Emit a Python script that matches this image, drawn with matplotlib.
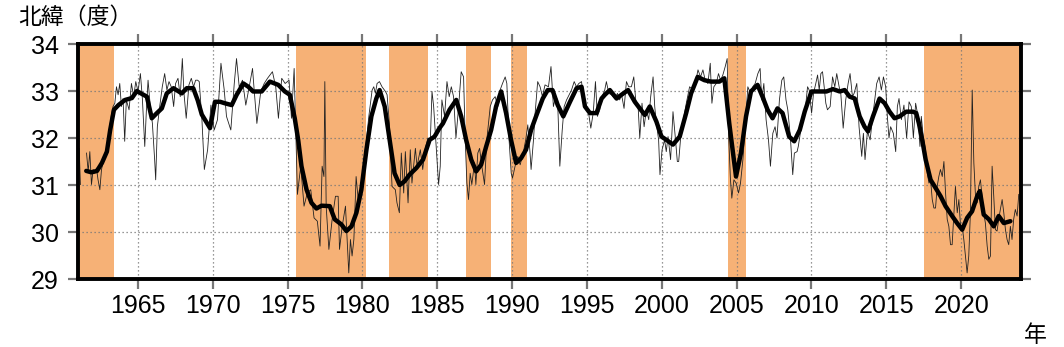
import numpy as np
import matplotlib
matplotlib.use("Agg")
import matplotlib.pyplot as plt

# ---- data ----
# large-meander periods (shaded)
meander_start = [1959.6, 1975.57, 1981.8, 1986.9, 1989.9, 2004.43, 2017.52]
meander_end = [1963.39, 1980.23, 1984.4, 1988.57, 1990.97, 2005.6, 2025.0]

# monthly latitude (thin line); NaN = missing
thin_year = [
    1961.08, 1961.16, 1961.3,
    1961.57, 1961.68, 1961.79, 1961.9, 1962.01, 1962.12, 1962.23, 1962.34, 1962.46, 1962.57,
    1962.72, 1962.9, 1963.01, 1963.12, 1963.23, 1963.34, 1963.46, 1963.57, 1963.68, 1963.79,
    1963.9, 1964.01, 1964.12, 1964.23, 1964.41, 1964.57, 1964.72, 1964.86, 1965.01, 1965.17,
    1965.3, 1965.46, 1965.57, 1965.68, 1965.83, 1965.97, 1966.12, 1966.19, 1966.3, 1966.46,
    1966.63, 1966.79, 1966.94, 1967.08, 1967.23, 1967.39, 1967.52, 1967.68, 1967.83, 1967.97,
    1968.08, 1968.23, 1968.41, 1968.57, 1968.72, 1968.86, 1968.99, 1969.1, 1969.28, 1969.44,
    1969.66, 1969.77, 1969.88, 1970.1, 1970.32, 1970.55, 1970.77, 1970.92, 1971.21, 1971.44,
    1971.59, 1971.77, 1971.99, 1972.21, 1972.44, 1972.66, 1972.77, 1972.95, 1973.21, 1973.44,
    1973.66, 1973.99, 1974.21, 1974.39, 1974.61, 1974.84, 1975.1, 1975.26, 1975.44, 1975.55,
    1975.66, 1975.88, 1976.1, 1976.32, 1976.55, 1976.77, 1976.99, 1977.17, 1977.31, 1977.43,
    1977.49, 1977.58, 1977.76, 1977.98, 1978.2, 1978.38, 1978.47, 1978.65, 1978.87, 1979.09,
    1979.2, 1979.31, 1979.43, 1979.58, 1979.76, 1979.98, 1980.09, 1980.2, 1980.43, 1980.65,
    1980.76, 1980.87, 1980.98, 1981.14, 1981.31, 1981.54, 1981.65, 1981.8, 1981.98, 1982.2,
    1982.31, 1982.47, 1982.6, 1982.76, 1982.87, 1983.05, 1983.2, 1983.31, 1983.54, 1983.65,
    1983.87, 1984.03, 1984.2, 1984.38, 1984.54, 1984.65, 1984.76, 1985.09, 1985.2, 1985.31,
    1985.49, 1985.65, 1985.8, 1985.94, 1986.09, 1986.25, 1986.43, 1986.6, 1986.76, 1986.87,
    1986.98, 1987.09, 1987.2, 1987.31, 1987.49, 1987.58, 1987.71, 1987.83, 1987.98, 1988.16,
    1988.31, 1988.54, 1988.69, 1988.87, 1989.05, 1989.2, 1989.36, 1989.54, 1989.65, 1989.8,
    1989.94, 1990.03, 1990.2, 1990.38, 1990.54, 1990.76, 1990.91, 1991.05, 1991.2, 1991.27,
    1991.43, 1991.54, 1991.71, 1991.87, 1992.03, 1992.2, 1992.43, 1992.6, 1992.76, 1992.91,
    1993.04, 1993.19, 1993.35, 1993.48, 1993.64, 1993.97, 1994.15, 1994.3, 1994.46, 1994.64,
    1994.75, 1994.86, 1995.08, 1995.26, 1995.42, 1995.57, 1995.7, 1995.86, 1995.97, 1996.19,
    1996.3, 1996.46, 1996.64, 1996.86, 1997.04, 1997.19, 1997.3, 1997.48, 1997.64, 1997.79,
    1997.97, 1998.13, 1998.26, 1998.42, 1998.53, 1998.68, 1998.82, 1998.97, 1999.13, 1999.26,
    1999.42, 1999.53, 1999.64, 1999.79, 1999.88, 2000.02, 2000.19, 2000.3, 2000.42, 2000.59,
    2000.75, 2000.9, 2001.04, 2001.13, 2001.26, 2001.42, 2001.64, 2001.86, 2002.08, 2002.24,
    2002.42, 2002.59, 2002.75, 2002.9, 2003.08, 2003.24, 2003.35, 2003.48, 2003.64, 2003.79,
    2003.93, 2004.08, 2004.24, 2004.37, 2004.46, 2004.59, 2004.68, 2004.82, 2004.97, 2005.13,
    2005.26, 2005.42, 2005.57, 2005.75, 2005.93, 2006.08, 2006.24, 2006.42, 2006.57, 2006.68,
    2006.82, 2006.97, 2007.13, 2007.26, 2007.42, 2007.57, 2007.7, 2007.86, 2008.02, 2008.15,
    2008.3, 2008.42, 2008.59, 2008.75, 2008.86, 2009.04, 2009.12, 2009.29, 2009.47, 2009.63,
    2009.74, 2009.85, 2010.01, 2010.14, 2010.29, 2010.41, 2010.52, 2010.63, 2010.74, 2010.85,
    2010.96, 2011.07, 2011.25, 2011.41, 2011.56, 2011.69, 2011.85, 2011.96, 2012.12, 2012.29,
    2012.45, 2012.58, 2012.74, 2012.85, 2013.03, 2013.18, 2013.36, 2013.47, 2013.58, 2013.74,
    2013.92, 2014.07, 2014.23, 2014.36, 2014.52, 2014.67, 2014.81, 2014.96, 2015.07, 2015.18,
    2015.29, 2015.47, 2015.63, 2015.74, 2015.85, 2016.01, 2016.18, 2016.36, 2016.52, 2016.67,
    2016.81, 2016.96, 2017.12, 2017.25, 2017.34, 2017.47, 2017.62, 2017.74, 2017.85, 2017.96,
    2018.07, 2018.18, 2018.29, 2018.4, 2018.51, 2018.62, 2018.74, 2018.85, 2018.96, 2019.07,
    2019.18, 2019.29, 2019.4, 2019.51, 2019.62, 2019.74, 2019.85, 2019.96, 2020.07, 2020.18,
    2020.29, 2020.4, 2020.51, 2020.62, 2020.74, 2020.85, 2020.96, 2021.07, 2021.18, 2021.29,
    2021.4, 2021.51, 2021.62, 2021.74, 2021.85, 2021.96, 2022.07, 2022.18, 2022.29, 2022.4,
    2022.51, 2022.62, 2022.74, 2022.85, 2022.96, 2023.07, 2023.18, 2023.29, 2023.4, 2023.51,
    2023.62, 2023.74, 2023.85,
]
thin_lat = [
    31.78, 31.01, np.nan,
    31.68, 31.29, 31.71, 31.01, 31.33, 31.25, 31.36, 31.11, 30.90, 31.33,
    31.54, 31.75, 31.96, 32.24, 32.49, 32.67, 32.74, 33.09, 32.92, 33.16,
    32.67, 32.84, 31.93, 32.81, 32.60, 33.16, 32.88, 33.20, 32.99, 33.37,
    32.84, 31.82, 32.60, 33.23, 32.67, 32.31, 31.54, 31.11, 32.24, 32.67,
    33.09, 33.37, 33.02, 33.20, 33.09, 32.67, 33.16, 33.27, 32.88, 33.69,
    32.95, 32.42, 33.13, 33.27, 33.09, 33.23, 33.23, 33.20, 32.39, 31.33,
    31.75, 32.24, 32.70, 32.17, 32.39, 33.59, 33.02, 32.46, 32.17, 33.16,
    33.69, 33.09, 33.23, 32.70, 33.09, 33.48, 33.02, 32.31, 32.99, 33.16,
    33.27, 33.41, 33.09, 32.42, 33.27, 33.16, 33.23, 32.42, 33.48, 32.14,
    30.80, 31.40, 30.55, 30.83, 30.90, 30.30, 30.23, 29.70, 31.40, 31.18,
    33.20, 30.55, 29.63, 30.27, 30.76, 30.76, 29.63, 30.12, 30.55, 29.13,
    29.84, 29.49, 29.84, 31.18, 30.55, 30.90, 31.40, 31.75, 32.46, 33.02,
    33.09, 32.95, 33.16, 33.20, 33.09, 32.99, 32.92, 32.31, 30.97, 30.90,
    30.62, 30.41, 31.68, 30.83, 31.71, 30.62, 31.75, 31.04, 31.78, 31.40,
    31.75, 31.33, 31.78, 32.00, 31.96, 32.99, 32.67, 31.01, 31.40, 32.81,
    32.46, 33.20, 32.88, 33.09, 32.88, 32.00, 32.67, 33.41, 33.30, 31.96,
    31.04, 30.69, 31.25, 31.01, 31.47, 31.01, 31.68, 31.78, 31.40, 31.01,
    31.96, 32.67, 32.81, 32.88, 32.67, 33.02, 33.16, 33.30, 33.16, 31.96,
    31.25, 31.15, 31.40, 31.61, 31.43, 31.71, 31.96, 32.28, 31.68, 31.33,
    31.96, 32.53, 33.20, 33.09, 32.88, 33.13, 33.09, 33.52, 32.67, 32.88,
    32.81, 31.40, 32.17, 32.67, 32.81, 33.02, 33.20, 33.09, 33.16, 33.20,
    32.88, 32.74, 32.60, 32.21, 32.53, 33.20, 32.46, 32.60, 32.84, 33.02,
    33.20, 32.95, 32.92, 32.84, 32.95, 32.81, 32.95, 32.63, 33.20, 33.09,
    33.09, 33.30, 32.81, 32.67, 32.00, 32.74, 32.24, 32.60, 32.39, 32.88,
    33.30, 32.67, 32.31, 31.96, 31.22, 31.75, 31.96, 31.71, 32.03, 31.54,
    32.56, 32.03, 31.50, 31.50, 32.00, 32.35, 32.74, 33.09, 33.02, 33.16,
    33.45, 33.30, 33.45, 33.23, 33.16, 33.59, 32.74, 33.09, 33.16, 33.37,
    33.23, 33.34, 33.52, 33.69, 32.10, 31.11, 30.72, 31.11, 31.04, 30.83,
    31.04, 31.54, 32.24, 33.09, 32.95, 33.09, 33.16, 33.37, 33.48, 32.81,
    33.16, 32.39, 31.96, 31.40, 32.10, 32.24, 32.00, 32.81, 33.23, 33.30,
    32.81, 32.60, 32.03, 31.22, 31.68, 31.71, 31.82, 32.17, 32.39, 32.74,
    33.09, 33.02, 32.53, 32.95, 33.16, 33.34, 33.02, 33.37, 33.41, 33.09,
    32.74, 32.60, 32.67, 33.30, 33.09, 33.37, 33.09, 32.95, 32.21, 32.81,
    33.16, 33.37, 32.88, 32.95, 33.16, 32.24, 31.61, 32.10, 31.54, 32.14,
    31.96, 32.39, 32.81, 33.16, 33.30, 33.02, 33.30, 33.09, 32.46, 32.00,
    32.24, 32.10, 31.71, 32.67, 32.84, 32.39, 32.70, 32.00, 32.77, 32.67,
    32.00, 32.74, 32.46, 31.82, 32.46, 32.03, 31.75, 31.25, 31.04, 31.11,
    30.69, 30.51, 30.51, 30.97, 31.18, 31.33, 31.18, 31.50, 30.83, 30.27,
    30.12, 29.73, 29.73, 30.34, 30.97, 30.41, 30.69, 30.12, 30.12, 29.84,
    29.49, 29.13, 29.49, 30.41, 33.02, 31.47, 30.76, 30.62, 30.97, 31.11,
    30.76, 30.41, 30.19, 29.70, 29.42, 29.49, 31.40, 30.76, 30.05, 30.02,
    30.27, 30.48, 30.69, 30.41, 30.05, 29.84, 29.73, 30.12, 29.84, 30.27,
    30.48, 30.34, 30.80,
]

# 13-month running mean (thick line)
mean_year = [
    1961.55, 1961.9, 1962.27, 1962.6, 1962.93, 1963.15, 1963.4, 1963.7, 1964.15, 1964.6,
    1964.93, 1965.2, 1965.6, 1965.93, 1966.27, 1966.6, 1966.93, 1967.38, 1967.93, 1968.27,
    1968.7, 1969.0, 1969.27, 1969.82, 1970.15, 1970.5, 1970.8, 1971.27, 1971.6, 1972.05,
    1972.38, 1972.7, 1973.27, 1973.82, 1974.38, 1974.82, 1975.15, 1975.48, 1975.71, 1975.93,
    1976.27, 1976.6, 1976.93, 1977.27, 1977.82, 1978.15, 1978.6, 1978.93, 1979.27, 1979.6,
    1979.93, 1980.27, 1980.6, 1980.93, 1981.15, 1981.49, 1981.82, 1982.15, 1982.49, 1982.82,
    1983.15, 1983.6, 1984.05, 1984.49, 1984.82, 1985.15, 1985.38, 1985.82, 1986.27, 1986.6,
    1986.93, 1987.27, 1987.6, 1987.93, 1988.27, 1988.6, 1988.93, 1989.27, 1989.6, 1989.93,
    1990.27, 1990.6, 1990.93, 1991.27, 1991.6, 1992.05, 1992.38, 1992.7, 1993.05, 1993.42,
    1993.87, 1994.31, 1994.64, 1994.87, 1995.2, 1995.64, 1995.98, 1996.2, 1996.53, 1996.98,
    1997.31, 1997.75, 1998.2, 1998.53, 1998.87, 1999.2, 1999.64, 1999.98, 2000.31, 2000.75,
    2001.2, 2001.63, 2001.96, 2002.4, 2002.85, 2003.29, 2003.85, 2004.18, 2004.51, 2004.96,
    2005.29, 2005.63, 2005.96, 2006.4, 2006.73, 2007.07, 2007.4, 2007.73, 2008.07, 2008.51,
    2008.85, 2009.22, 2009.55, 2010.0, 2010.44, 2011.0, 2011.44, 2011.89, 2012.22, 2012.55,
    2012.89, 2013.22, 2013.55, 2013.78, 2014.11, 2014.55, 2014.89, 2015.22, 2015.55, 2015.89,
    2016.33, 2016.78, 2017.0, 2017.18, 2017.4, 2017.63, 2017.96, 2018.29, 2018.63, 2018.96,
    2019.4, 2019.73, 2020.07, 2020.4, 2020.73, 2021.07, 2021.25, 2021.51, 2021.85, 2022.18,
    2022.51, 2022.85, 2023.29,
]
mean_lat = [
    31.30, 31.27, 31.30, 31.47, 31.71, 32.17, 32.60, 32.70, 32.81, 32.85,
    33.00, 32.95, 32.88, 32.42, 32.53, 32.63, 32.95, 33.06, 32.95, 33.06,
    33.06, 32.80, 32.50, 32.21, 32.77, 32.77, 32.74, 32.70, 32.92, 33.16,
    33.09, 32.99, 32.99, 33.20, 33.13, 32.99, 32.92, 32.42, 31.96, 31.40,
    30.90, 30.62, 30.50, 30.56, 30.55, 30.27, 30.16, 30.02, 30.12, 30.41,
    30.90, 31.75, 32.46, 32.84, 33.02, 32.67, 31.96, 31.25, 31.00, 31.08,
    31.22, 31.36, 31.54, 31.96, 32.03, 32.21, 32.31, 32.60, 32.81, 32.46,
    31.96, 31.54, 31.29, 31.43, 31.82, 32.17, 32.67, 32.99, 32.53, 31.96,
    31.47, 31.57, 31.75, 32.17, 32.46, 32.84, 33.02, 33.02, 32.70, 32.46,
    32.77, 33.06, 33.09, 32.67, 32.53, 32.53, 32.84, 32.92, 33.02, 32.84,
    32.92, 33.02, 32.77, 32.63, 32.49, 32.67, 32.35, 32.03, 31.96, 31.86,
    32.03, 32.53, 32.95, 33.30, 33.23, 33.20, 33.20, 33.27, 32.31, 31.18,
    31.68, 32.46, 32.99, 33.13, 32.88, 32.60, 32.42, 32.63, 32.53, 32.03,
    31.93, 32.17, 32.56, 32.99, 32.99, 32.99, 33.04, 32.99, 33.02, 32.88,
    32.84, 32.46, 32.24, 32.14, 32.46, 32.84, 32.74, 32.56, 32.42, 32.46,
    32.56, 32.56, 32.53, 32.31, 31.96, 31.54, 31.11, 30.94, 30.76, 30.55,
    30.34, 30.19, 30.05, 30.30, 30.44, 30.76, 30.87, 30.37, 30.27, 30.12,
    30.34, 30.19, 30.23,
]

x_ticks = [1965, 1970, 1975, 1980, 1985, 1990, 1995, 2000, 2005, 2010, 2015, 2020]
y_ticks = [29, 30, 31, 32, 33, 34]
y_label = "北緯（度）"
x_label = "年"

# ---- figure ----
W, H = 1064, 347
fig = plt.figure(figsize=(W / 100, H / 100), dpi=100)
ax = fig.add_axes([78 / W, 1 - 279 / H, (1021 - 78) / W, (279 - 44) / H])

for s, e in zip(meander_start, meander_end):
    ax.axvspan(s, e, color="#F6B176", lw=0, zorder=0)

ax.set_xlim(1961.0, 2024.0)
ax.set_ylim(29, 34)
ax.set_xticks(x_ticks)
ax.set_yticks(y_ticks)
ax.grid(True, color="#777777", linestyle=(0, (1, 2.2)), linewidth=0.9, zorder=1)
ax.set_axisbelow(False)

ax.plot(thin_year, thin_lat, color="#222222", lw=0.6, zorder=3)
ax.plot(mean_year, mean_lat, color="black", lw=3.2, zorder=4,
        solid_joinstyle="round", solid_capstyle="round")

for sp in ax.spines.values():
    sp.set_linewidth(2.8)
    sp.set_color("black")
    sp.set_zorder(5)

font = "Liberation Sans"
ax.tick_params(axis="both", which="major", direction="out", length=7,
               width=1.6, color="#777777", labelsize=18)
ax.tick_params(axis="x", top=True, bottom=True, pad=4)
ax.tick_params(axis="y", left=True, right=True, pad=7)
for lab in ax.get_xticklabels() + ax.get_yticklabels():
    lab.set_fontfamily(font)

cjk = ["Noto Sans CJK JP", "DejaVu Sans"]
fig.text(18 / W, 1 - 17 / H, y_label, family=cjk, fontsize=16.5,
         ha="left", va="center")
fig.text(1035 / W, 1 - 335 / H, x_label, family=cjk, fontsize=16.5,
         ha="center", va="center")

fig.savefig("out.png", dpi=100)
